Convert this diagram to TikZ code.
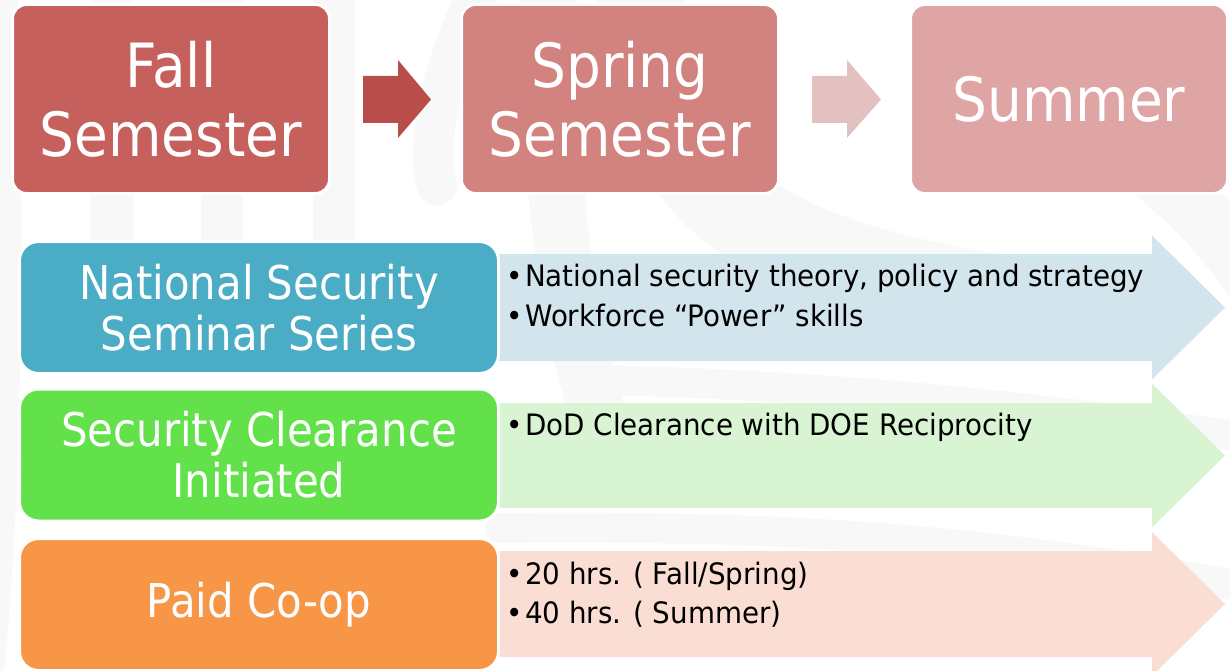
\documentclass[tikz,border=0pt]{standalone}
\usepackage{fontspec}
\setmainfont{DejaVu Sans}[FakeStretch=0.9]
\newfontfamily\listfont{DejaVu Sans}[FakeStretch=0.94,Ligatures=TeX]
\usetikzlibrary{positioning}

\definecolor{fallred}{HTML}{C6605D}
\definecolor{springred}{HTML}{D2827F}
\definecolor{summerred}{HTML}{DFA5A4}
\definecolor{arrowdark}{HTML}{B84D4A}
\definecolor{arrowpale}{HTML}{E3C1C1}
\definecolor{seminarblue}{HTML}{4BACC6}
\definecolor{cleargreen}{HTML}{62E14B}
\definecolor{coopor}{HTML}{F79646}
\definecolor{seminarpale}{HTML}{D2E4EC}
\definecolor{clearpale}{HTML}{D9F4D3}
\definecolor{cooppale}{HTML}{FBDED3}
\definecolor{watermark}{HTML}{F8F8F8}

\tikzset{
  term/.style={rounded corners=14pt, draw=white, line width=3pt,
    minimum width=317pt, minimum height=189pt, inner sep=0pt,
    text=white, align=center, font=\fontsize{61}{69}\selectfont},
  track/.style={rounded corners=19pt, draw=white, line width=3pt,
    minimum width=479pt, minimum height=132pt, inner sep=0pt,
    text=white, align=center, font=\fontsize{46.5}{51}\selectfont},
  point/.style={anchor=base west, inner sep=0pt,
    font=\listfont\fontsize{29.5}{35}\selectfont},
  band/.style={draw=watermark, line width=42pt, line cap=round},
}
\newcommand{\pt}{\makebox[19pt][l]{\textbullet}}

\begin{document}
\begin{tikzpicture}[x=1pt,y=-1pt]
      \useasboundingbox (0,0) rectangle (1230,671);

      % faint curves in the background
      \draw [band, line width=24pt] (6,-20) .. controls (12,300) and (10,500) .. (-10,690);
      \draw [band, line cap=butt] (112,-20) -- (112,240);
      \draw [band, line cap=butt] (222,-20) -- (222,240);
      \draw [band, line cap=butt] (334,-20) -- (334,240);
      \draw [band, line width=40pt] (490,-30) .. controls (440,60) and (425,150) .. (437,185);
      \draw [band, line width=56pt] (548,-20) .. controls (548,150) and (560,300) .. (600,420);
      \draw [band, line width=90pt] (640,-20) .. controls (650,200) and (760,260) .. (1000,300);
      \draw [band, line width=60pt] (1140,160) .. controls (1190,200) and (1230,240) .. (1260,290);
      \draw [band, line width=30pt] (600,380) .. controls (800,385) and (1000,400) .. (1260,440);
      \draw [band, line width=30pt] (500,528) .. controls (800,525) and (1000,540) .. (1260,590);

      % long arrows behind the tracks
      \fill [seminarpale] (480,254) -- (1152,254) -- (1152,235.5) -- (1225,307.5)
        -- (1152,379.5) -- (1152,361) -- (480,361) -- cycle;
      \fill [clearpale] (480,403) -- (1152,403) -- (1152,383.5) -- (1225,455.5)
        -- (1152,527.5) -- (1152,508) -- (480,508) -- cycle;
      \fill [cooppale] (480,551) -- (1152,551) -- (1152,532) -- (1225,604)
        -- (1152,676) -- (1152,657) -- (480,657) -- cycle;

      % semesters
      \node [term, fill=fallred] (fall) at (171,99) {Fall\\Semester};
      \node [term, fill=springred] (spring) at (620,99) {Spring\\Semester};
      \node [term, fill=summerred] (summer) at (1069,99) {Summer};

      \fill [arrowdark] (363,76) -- (398,76) -- (398,60) -- (431,99.5)
        -- (398,138) -- (398,123) -- (363,123) -- cycle;
      \fill [arrowpale] (812,76) -- (847,76) -- (847,60) -- (881,99.5)
        -- (847,138) -- (847,123) -- (812,123) -- cycle;

      % tracks
      \node [track, fill=seminarblue] (seminar) at (259,307.5) {National Security\\Seminar Series};
      \node [track, fill=cleargreen] (clearance) at (259,455) {Security Clearance\\Initiated};
      \node [track, fill=coopor] (coop) at (259,604.5) {Paid Co-op};

      \node [point] (theory) at (506,286) {\pt National security theory, policy and strategy};
      \node [point] (skills) at (506,326) {\pt Workforce ``Power'' skills};
      \node [point] (dod) at (506,435) {\pt DoD Clearance with DOE Reciprocity};
      \node [point] (hrsa) at (506,584) {\pt 20 hrs. ( Fall/Spring)};
      \node [point] (hrsb) at (506,623) {\pt 40 hrs. ( Summer)};
    \end{tikzpicture}
\end{document}
